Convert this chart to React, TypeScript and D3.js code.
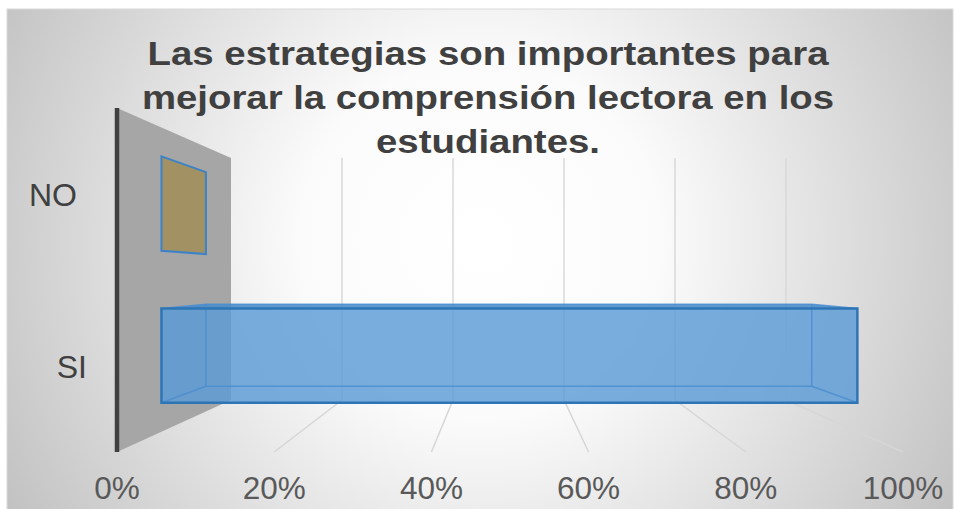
import React from "react";
import * as d3 from "d3";

const categories = ["SI", "NO"];
const values = [1.0, 0.0];
const tickValues = [0, 0.2, 0.4, 0.6, 0.8, 1.0];
const titleLines = [
  "Las estrategias son importantes para",
  "mejorar la comprensión lectora en los",
  "estudiantes.",
];
const titleWidths = [681, 692, 224];
const barFills = ["#5b9bd5", "#a29263"];

type P = [number, number];

export default function App() {
  const W = 960;
  const H = 509;

  // 3D-ish projection: v = value (0..1), h = height within wall (0..1), t = depth (0 front .. 1 back)
  const xFront = d3.scaleLinear().domain([0, 1]).range([117, 903]);
  const xBack = d3.scaleLinear().domain([0, 1]).range([231, 786]);
  const floorY = d3.scaleLinear().domain([0, 1]).range([452, 400]);
  const ceilY = d3.scaleLinear().domain([0, 1]).range([108, 158]);
  const proj = (v: number, h: number, t: number): P => {
    const x = xFront(v) * (1 - t) + xBack(v) * t;
    const fy = floorY(t);
    const cy = ceilY(t);
    return [x, fy + (cy - fy) * h];
  };
  const band = d3
    .scaleBand<string>()
    .domain(categories)
    .range([0, 1])
    .paddingInner(0.38)
    .paddingOuter(0.19);
  const depth: [number, number] = [0.39, 0.78];
  const fmt = d3.format(".0%");
  const line = d3.line<P>();
  const poly = (pts: P[]) => line(pts)! + "Z";

  const wall: P[] = [proj(0, 0, 0), proj(0, 1, 0), proj(0, 1, 1), proj(0, 0, 1)];

  const bars = categories.map((c, i) => {
    const v = values[i];
    const h0 = band(c)!;
    const h1 = h0 + band.bandwidth();
    const [t0, t1] = depth;
    const c3 = {
      fbl: proj(0, h0, t0),
      ftl: proj(0, h1, t0),
      ftr: proj(v, h1, t0),
      fbr: proj(v, h0, t0),
      bbl: proj(0, h0, t1),
      btl: proj(0, h1, t1),
      btr: proj(v, h1, t1),
      bbr: proj(v, h0, t1),
    };
    const allPts = Object.values(c3) as P[];
    const hull = d3.polygonHull(allPts) as P[];
    return { c, v, i, c3, hull };
  });

  return (
    <svg
      width={W}
      height={H}
      style={{ position: "absolute", left: 0, top: 0, background: "#ffffff" }}
      fontFamily="'Liberation Sans', Arial, sans-serif"
    >
      <defs>
        <radialGradient id="bg" gradientUnits="userSpaceOnUse" cx={480} cy={240} r={600}>
          <stop offset="0" stopColor="#ffffff" />
          <stop offset="0.3" stopColor="#fbfbfb" />
          <stop offset="1" stopColor="#b9b9b9" />
        </radialGradient>
      </defs>
      <rect x={7} y={9} width={946} height={510} fill="url(#bg)" stroke="#d9d9d9" strokeWidth={1} />

      {/* side wall */}
      <path d={poly(wall)} fill="#a6a6a6" />

      {/* gridlines: back wall verticals and floor lines */}
      {tickValues
        .filter((v) => v > 0)
        .map((v) => (
          <g key={"g" + v}>
            <path d={line([proj(v, 0, 1), proj(v, 1, 1)])!} stroke="#d9d9d9" strokeWidth={1.5} fill="none" />
            <path d={line([proj(v, 0, 1), proj(v, 0, 0)])!} stroke="#d6d6d6" strokeWidth={1.5} fill="none" />
          </g>
        ))}

      {/* axis line */}
      <path d={line([proj(0, 0, 0), proj(0, 1, 0)])!} stroke="#404040" strokeWidth={4.5} fill="none" />

      {/* bars */}
      {bars.map((b) => {
        const k = b.c3;
        if (b.v > 0) {
          const front: P[] = [k.fbl, k.ftl, k.ftr, k.fbr];
          const top: P[] = [k.ftl, k.btl, k.btr, k.ftr];
          const left: P[] = [k.fbl, k.ftl, k.btl, k.bbl];
          return (
            <g key={b.c}>
              <path d={poly(b.hull)} fill={barFills[b.i]} fillOpacity={0.82} />
              <path d={poly(left)} fill={barFills[b.i]} fillOpacity={0.15} />
              <path d={poly(top)} fill="#2e75b6" fillOpacity={0.35} />
              {[
                [k.bbl, k.btl],
                [k.btl, k.btr],
                [k.btr, k.bbr],
                [k.bbr, k.bbl],
                [k.fbl, k.bbl],
                [k.fbr, k.bbr],
                [k.ftl, k.btl],
                [k.ftr, k.btr],
              ].map((e, j) => (
                <path key={j} d={line(e as P[])!} stroke="#4a8ccf" strokeOpacity={0.8} strokeWidth={1.5} fill="none" />
              ))}
              <path d={poly(front)} fill="none" stroke="#2e75b6" strokeWidth={2.5} strokeLinejoin="miter" />
            </g>
          );
        }
        return (
          <g key={b.c}>
            <path d={poly(b.hull)} fill={barFills[b.i]} stroke="#3c82c8" strokeWidth={2} />
          </g>
        );
      })}

      {/* category labels */}
      {categories.map((c) => {
        const hc = band(c)! + band.bandwidth() / 2;
        const [, y] = proj(0, hc, 0);
        const x = 92 - 20 * hc;
        return (
          <text key={c} x={x} y={y + 11.5} textAnchor="end" fontSize={32} fill="#404040">
            {c}
          </text>
        );
      })}

      {/* x tick labels */}
      {tickValues.map((v) => (
        <text
          key={"t" + v}
          x={xFront(v)}
          y={499}
          textAnchor="middle"
          fontSize={31.5}
          fill="#595959"
        >
          {fmt(v)}
        </text>
      ))}

      {/* title */}
      {titleLines.map((s, i) => (
        <text
          key={"title" + i}
          x={488 - titleWidths[i] / 2}
          y={65 + i * 44}
          fontSize={33}
          fontWeight="bold"
          fill="#404040"
          textLength={titleWidths[i]}
          lengthAdjust="spacingAndGlyphs"
        >
          {s}
        </text>
      ))}
    </svg>
  );
}
